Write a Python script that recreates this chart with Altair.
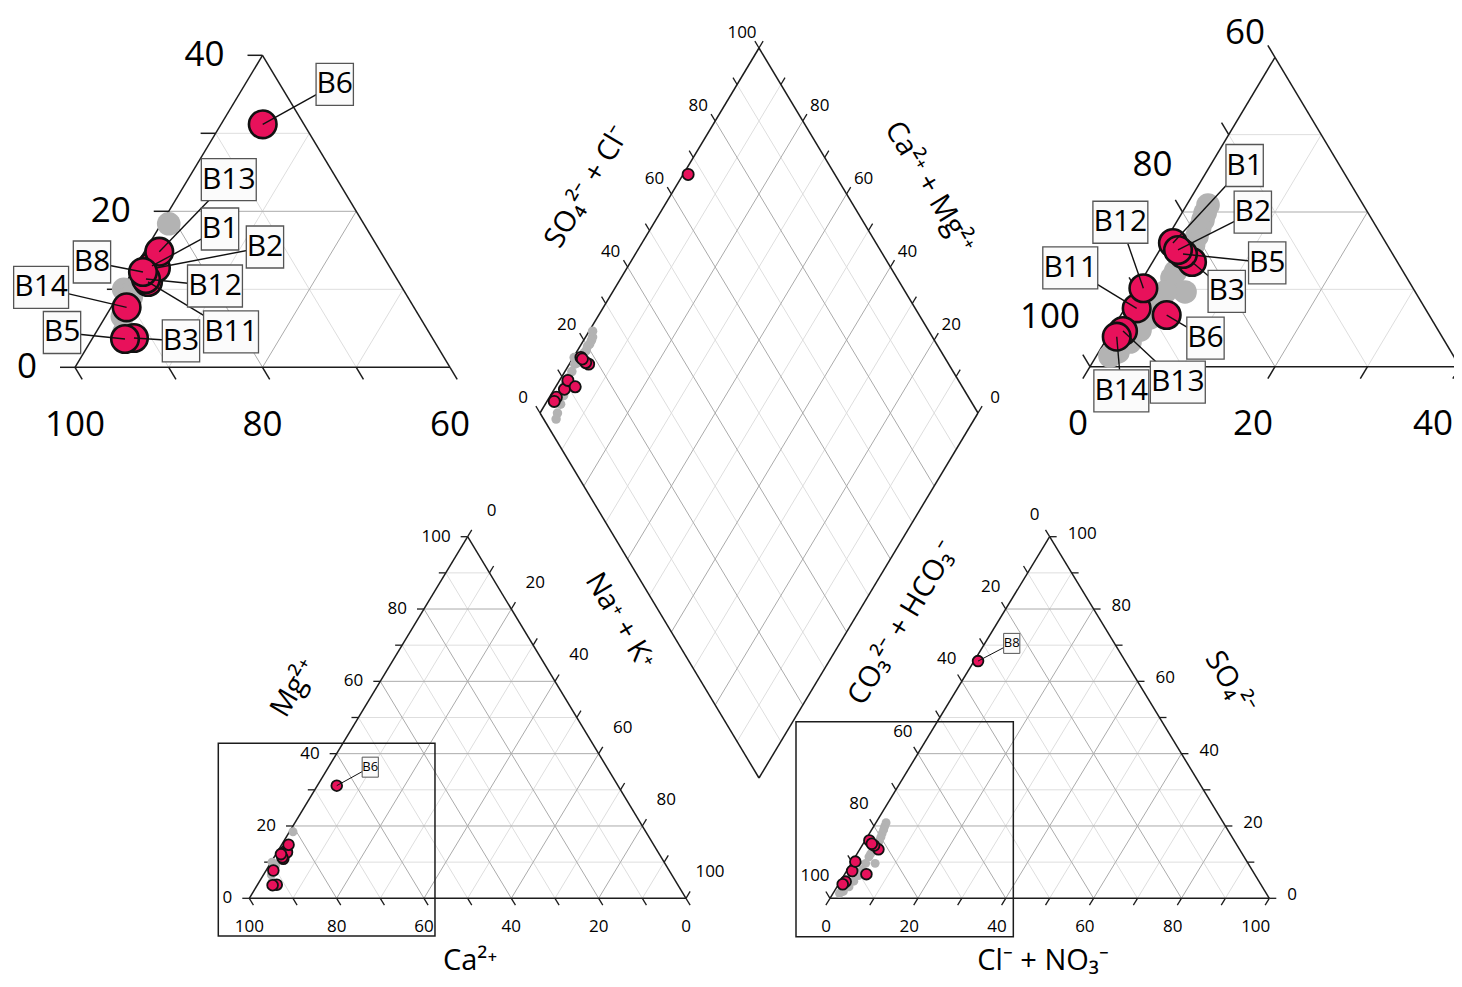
import math
import altair as alt
import pandas as pd

# ---------------- data (percent of meq) ----------------
SAMPLES = ["B3", "B11", "B1", "B5", "B2", "B13", "B12", "B14", "B6", "B8"]
MG  = [3.76, 10.94, 12.99, 3.63, 12.73, 14.82, 11.32, 7.69, 31.15, 12.22]
NA  = [4.41, 2.32, 1.72, 3.52, 2.27, 1.58, 1.91, 1.66, 4.45, 1.14]
SO4 = [13.54, 7.55, 15.99, 14.57, 15.09, 4.62, 10.14, 3.88, 6.68, 65.6]
CL  = [4.26, 1.27, 0.97, 2.77, 1.97, 1.26, 0.70, 0.95, 4.95, 0.90]

GRAY_MG  = [18.4, 14.5, 13.5, 12.8, 12.5, 12.0, 11.5, 11.0, 10.0, 9.5, 9.0, 8.0, 7.5, 6.5, 4.5, 4.0, 3.6, 3.5]
GRAY_NA  = [0.8, 1.6, 1.8, 1.9, 1.7, 2.0, 1.8, 2.2, 0.2, 1.2, 1.5, 1.6, 1.7, 1.8, 3.0, 3.5, 4.0, 4.5]
GRAY_SO4 = [20.9, 19.9, 18.97, 17.9, 16.9, 15.8, 14.83, 13.15, 12.3, 11.47, 9.66, 9.66, 7.98, 6.3, 4.74, 3.19, 1.9, 1.38]
GRAY_CL  = [2.31, 2.5, 2.73, 2.9, 3.12, 3.3, 3.4, 3.15, 3.1, 3.13, 5.44, 3.28, 3.36, 3.34, 3.04, 2.73, 2.08, 1.47]

MAIN_TICKS = [0, 10, 20, 30, 40, 50, 60, 70, 80, 90, 100]
MAIN_LABELS = [0, 20, 40, 60, 80, 100]
GRID_STEPS = [10, 20, 30, 40, 50, 60, 70, 80, 90]
INSET_TICKS = [0, 10, 20, 30, 40]
INSET_LABELS = [0, 20, 40]
INSET_GRID = [10, 20, 30]

TITLES = [
    ("Ca²⁺", 470, 961, 0),
    ("Cl⁻ + NO₃⁻", 1043, 961, 0),
    ("Mg²⁺", 294, 688, 301),
    ("SO₄²⁻", 1230, 683, 59),
    ("SO₄²⁻ + Cl⁻", 587, 187, 301),
    ("Ca²⁺ + Mg²⁺", 930, 187, 59),
    ("Na⁺ + K⁺", 620, 621, 59),
    ("CO₃²⁻ + HCO₃⁻", 903, 623, 301),
]

# ---------------- layout ----------------
CAT = (249.3, 898.3, 4.367, 3.616)
AN = (830.0, 898.3, 4.393, 3.616)
CAT_IN = (75.0, 367.3, 9.375, 7.8)
AN_IN = (1090.0, 366.7, 9.25, 7.735)
DL, DR, DB = (540.0, 413.0), (978.0, 413.0), (759.0, 778.0)
AN_IN_LEFT_DY = {0: -50, 20: -47, 40: -24}
X_MAX_TEXT = 1453

OFF_CAT_IN = {"B6": (72, -40), "B13": (69.5, -72), "B1": (68, -37), "B2": (109, -21),
              "B8": (-51, -10), "B12": (69, 7), "B11": (83, 50), "B14": (-85.5, -20),
              "B5": (-63, -6.5), "B3": (47, 3)}
OFF_AN_IN = {"B1": (71.7, -77.5), "B2": (74.8, -37.8), "B5": (84.2, 8.8), "B3": (34.7, 29.5),
             "B12": (-23, -66), "B11": (-66.4, -40.5), "B6": (38.8, 23), "B13": (54.8, 51.2),
             "B14": (4.6, 54.1)}
OFF_CAT_MAIN = {"B6": (33.5, -18.5)}
OFF_AN_MAIN = {"B8": (33.7, -17.7)}

RED = "#E8115B"
GRAY = "#b3b3b3"
LIGHT = "#dedede"
MID = "#ababab"
EDGE = "#1c1c1c"
FONT = "Open Sans"


def tp(panel, b, t):
    x0, y0, sx, sy = panel
    return (x0 + (b + t / 2.0) * sx, y0 - t * sy)


def dp(c, s):
    return (DB[0] + c * (DL[0] - DB[0]) + s * (DR[0] - DB[0]),
            DB[1] + c * (DL[1] - DB[1]) + s * (DR[1] - DB[1]))


def unit(dx, dy):
    n = math.hypot(dx, dy)
    return dx / n, dy / n


def add(p, d, k):
    return (p[0] + d[0] * k, p[1] + d[1] * k)


grid, lines, texts = [], [], []


def seg(store, p, q, color, w):
    store.append(dict(x=p[0], y=p[1], x2=q[0], y2=q[1], color=color, w=w))


def txt(p, s, size, align="center", angle=0, dx=0.0, dy=0.0):
    x = p[0] + dx
    if align == "right":
        x = min(x, X_MAX_TEXT)
    texts.append(dict(x=x, y=p[1] + dy, text=s, size=size, align=align, angle=angle))


def tri_grid(P, total, steps):
    for k in steps:
        col = MID if k % 20 == 0 else LIGHT
        seg(grid, tp(P, 0, k), tp(P, total - k, k), col, 1)
        seg(grid, tp(P, k, 0), tp(P, k, total - k), col, 1)
        if total == 100:
            seg(grid, tp(P, 100 - k, 0), tp(P, 0, 100 - k), col, 1)
        else:
            seg(grid, tp(P, k, 0), tp(P, 0, k), col, 1)
    seg(lines, tp(P, 0, 0), tp(P, total, 0), EDGE, 1.5)
    seg(lines, tp(P, 0, 0), tp(P, 0, total), EDGE, 1.5)
    seg(lines, tp(P, total, 0), tp(P, 0, total), EDGE, 1.5)


def dirs(P):
    sx, sy = P[2], P[3]
    d_rt = unit(sx * 50, sy * 100)     # down-right, along right edge
    d_lt = unit(sx * 50, -sy * 100)    # up-right, along left edge
    return d_rt, d_lt


# ----- cation main -----
tri_grid(CAT, 100, GRID_STEPS)
d_rt, d_lt = dirs(CAT)
for k in MAIN_TICKS:
    p = tp(CAT, 0, k); seg(lines, p, (p[0] - 7, p[1]), EDGE, 1.3)
    p = tp(CAT, k, 0); seg(lines, p, add(p, d_rt, 8), EDGE, 1.3)
    p = tp(CAT, k, 100 - k); seg(lines, p, add(p, d_lt, 8), EDGE, 1.3)
for k in MAIN_LABELS:
    txt(tp(CAT, 0, k), str(k), 17, "right", dx=-17)
    txt(tp(CAT, k, 0), str(100 - k), 17, "center", dy=28.4)
    txt(tp(CAT, k, 100 - k), str(k), 17, "center", dx=24, dy=-26)

# ----- anion main -----
tri_grid(AN, 100, GRID_STEPS)
d_rt, d_lt = dirs(AN)
for k in MAIN_TICKS:
    p = tp(AN, 0, 100 - k); seg(lines, p, add(p, (-d_rt[0], -d_rt[1]), 8), EDGE, 1.3)
    p = tp(AN, 100 - k, k); seg(lines, p, (p[0] + 7, p[1]), EDGE, 1.3)
    p = tp(AN, k, 0); seg(lines, p, add(p, (-d_lt[0], -d_lt[1]), 8), EDGE, 1.3)
for k in MAIN_LABELS:
    txt(tp(AN, 0, 100 - k), str(k), 17, "center", dx=-15, dy=-22)
    txt(tp(AN, 100 - k, k), str(k), 17, "left", dx=18, dy=-3)
    txt(tp(AN, k, 0), str(k), 17, "right", dx=1, dy=28.5)

# ----- diamond -----
for k in GRID_STEPS:
    col = MID if k % 20 == 0 else LIGHT
    seg(grid, dp(k / 100, 0), dp(k / 100, 1), col, 1)
    seg(grid, dp(0, k / 100), dp(1, k / 100), col, 1)
for a, b in [((1, 0), (1, 1)), ((1, 1), (0, 1)), ((0, 1), (0, 0)), ((0, 0), (1, 0))]:
    seg(lines, dp(*a), dp(*b), EDGE, 1.5)
u_l = unit(DL[0] - DB[0], DL[1] - DB[1])
u_r = unit(DR[0] - DB[0], DR[1] - DB[1])
for k in MAIN_TICKS:
    p = dp(1, k / 100); seg(lines, p, add(p, u_l, 8), EDGE, 1.3)
    p = dp(k / 100, 1); seg(lines, p, add(p, u_r, 8), EDGE, 1.3)
for k in MAIN_LABELS:
    txt(dp(1, k / 100), str(k), 17, "center", dx=-17, dy=-15)
    if k < 100:
        txt(dp(k / 100, 1), str(k), 17, "center", dx=17, dy=-15)

# ----- zoom frames on main triangles -----
frames = []
for P, pad in [(CAT, (-31, 11, -10.4, 37.7)), (AN, (-34, 7.6, -32, 38.4))]:
    x0, y0 = tp(P, 0, 0)
    x1 = tp(P, 40, 0)[0]
    yt = tp(P, 0, 40)[1]
    frames.append(dict(x=x0 + pad[0], x2=x1 + pad[1], y=yt + pad[2], y2=y0 + pad[3]))

# ----- top-left inset (cation corner) -----
tri_grid(CAT_IN, 40, INSET_GRID)
d_rt, d_lt = dirs(CAT_IN)
for k in INSET_TICKS:
    p = tp(CAT_IN, 0, k); seg(lines, p, (p[0] - 15, p[1]), EDGE, 1.5)
    p = tp(CAT_IN, k, 0); seg(lines, p, add(p, d_rt, 14), EDGE, 1.5)
for k in INSET_LABELS:
    txt(tp(CAT_IN, 0, k), str(k), 35, "right", dx=-38)
    txt(tp(CAT_IN, k, 0), str(100 - k), 35, "center", dy=58)

# ----- top-right inset (anion corner) -----
tri_grid(AN_IN, 40, INSET_GRID)
d_rt, d_lt = dirs(AN_IN)
for k in INSET_TICKS:
    p = tp(AN_IN, 0, k); seg(lines, p, add(p, (-d_rt[0], -d_rt[1]), 14), EDGE, 1.5)
    p = tp(AN_IN, k, 0); seg(lines, p, add(p, (-d_lt[0], -d_lt[1]), 14), EDGE, 1.5)
for k in INSET_LABELS:
    txt(tp(AN_IN, 0, k), str(100 - k), 35, "right", dx=-10, dy=AN_IN_LEFT_DY[k])
    txt(tp(AN_IN, k, 0), str(k), 35, "right", dx=-2, dy=57)

# ----- points -----
red_pts, gray_pts, leaders, boxes, box_txt = [], [], [], [], []


def place(store, names, mg, na, so4, cl, big, small):
    for i in range(len(mg)):
        nm = names[i] if names else None
        p = tp(CAT, na[i], mg[i])
        store.append(dict(x=p[0], y=p[1], size=small, sw=1.8, name=nm, panel="cat"))
        p = tp(AN, cl[i], so4[i])
        store.append(dict(x=p[0], y=p[1], size=small, sw=1.8, name=nm, panel="an"))
        d = dp((100 - na[i]) / 100, (so4[i] + cl[i]) / 100)
        store.append(dict(x=d[0], y=d[1], size=small + 10, sw=1.8, name=nm, panel="dia"))
        if mg[i] + na[i] <= 40:
            p = tp(CAT_IN, na[i], mg[i])
            store.append(dict(x=p[0], y=p[1], size=big, sw=2.6, name=nm, panel="cat_in"))
        if so4[i] + cl[i] <= 40:
            p = tp(AN_IN, cl[i], so4[i])
            store.append(dict(x=p[0], y=p[1], size=big, sw=2.6, name=nm, panel="an_in"))


place(gray_pts, None, GRAY_MG, GRAY_NA, GRAY_SO4, GRAY_CL, 560, 80)
place(red_pts, SAMPLES, MG, NA, SO4, CL, 760, 115)

OFFS = {"cat_in": (OFF_CAT_IN, 30, 42, 1.4), "an_in": (OFF_AN_IN, 30, 42, 1.4),
        "cat": (OFF_CAT_MAIN, 13, 20, 1.0), "an": (OFF_AN_MAIN, 13, 20, 1.0)}
for r in red_pts:
    if r["panel"] not in OFFS:
        continue
    offs, fs, bh, lw = OFFS[r["panel"]]
    if r["name"] not in offs:
        continue
    dx, dy = offs[r["name"]]
    c = (r["x"] + dx, r["y"] + dy)
    seg(leaders, (r["x"], r["y"]), c, "#111111", lw)
    bw = (fs * 0.587) * len(r["name"]) + fs * 0.07
    boxes.append(dict(x=c[0] - bw / 2, x2=c[0] + bw / 2, y=c[1] - bh / 2, y2=c[1] + bh / 2,
                      sw=1.3 if fs > 20 else 1.0))
    box_txt.append(dict(x=c[0], y=c[1], text=r["name"], size=fs, align="center", angle=0))

for s, x, y, a in TITLES:
    texts.append(dict(x=x, y=y, text=s, size=29, align="center", angle=a))

# ---------------- chart ----------------
xs = alt.Scale(domain=[8, 1454], nice=False, zero=False)
ys = alt.Scale(domain=[8, 979], nice=False, zero=False, reverse=True)
X = alt.X("x:Q", scale=xs, axis=None)
Y = alt.Y("y:Q", scale=ys, axis=None)


def rules(rows):
    return alt.Chart(pd.DataFrame(rows)).mark_rule().encode(
        x=X, y=Y, x2="x2:Q", y2="y2:Q",
        color=alt.Color("color:N", scale=None),
        strokeWidth=alt.StrokeWidth("w:Q", scale=None))


grid_sorted = sorted(grid, key=lambda r: 0 if r["color"] == LIGHT else 1)
layers = [rules(grid_sorted), rules(lines)]

layers.append(alt.Chart(pd.DataFrame(frames)).mark_rect(filled=False, stroke=EDGE, strokeWidth=1.5).encode(
    x=X, y=Y, x2="x2:Q", y2="y2:Q"))

layers.append(alt.Chart(pd.DataFrame(gray_pts)).mark_point(
    shape="circle", filled=True, fill=GRAY, opacity=1, strokeWidth=0).encode(
    x=X, y=Y, size=alt.Size("size:Q", scale=None)))

layers.append(alt.Chart(pd.DataFrame(red_pts)).mark_point(
    shape="circle", filled=True, fill=RED, stroke="#111111", opacity=1).encode(
    x=X, y=Y, size=alt.Size("size:Q", scale=None),
    strokeWidth=alt.StrokeWidth("sw:Q", scale=None)))

layers.append(rules(leaders))

layers.append(alt.Chart(pd.DataFrame(boxes)).mark_rect(fill="#fbfbfb", stroke="#555555").encode(
    x=X, y=Y, x2="x2:Q", y2="y2:Q", strokeWidth=alt.StrokeWidth("sw:Q", scale=None)))

all_txt = pd.DataFrame(texts + box_txt)
for al in ["left", "center", "right"]:
    sub = all_txt[all_txt["align"] == al]
    if len(sub) == 0:
        continue
    layers.append(alt.Chart(sub).mark_text(align=al, baseline="middle", font=FONT, color="#000000").encode(
        x=X, y=Y, text="text:N",
        size=alt.Size("size:Q", scale=None),
        angle=alt.Angle("angle:Q", scale=None)))

chart = alt.layer(*layers).properties(
    width=1446, height=971, padding=0, autosize="none", background="white"
).configure_view(stroke=None)

chart.save("out.html", embed_options={"renderer": "svg", "actions": False})
